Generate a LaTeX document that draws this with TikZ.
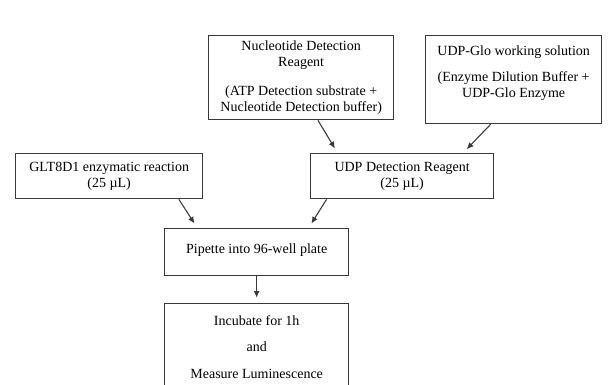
\documentclass[tikz,border=0pt]{standalone}
\usepackage{fontspec}
\setmainfont{Liberation Serif}
\usetikzlibrary{arrows.meta,calc}
\definecolor{LineClr}{rgb}{0.22,0.22,0.22}

\begin{document}
\begin{tikzpicture}[x=.75pt,y=-.75pt,
  box/.style={draw=LineClr,line width=1pt,align=center,inner sep=0pt,
    font=\fontsize{10.5}{12}\selectfont,anchor=north west},
  link/.style={-{Latex[length=5pt,width=4.5pt]},line width=.8pt,color=LineClr,shorten >=4pt}]
\clip (0,0) rectangle (614,385);
\fill[white] (0,0) rectangle (614,385);

\node[box,minimum width=185*.75pt,minimum height=84*.75pt] (nuc) at (208,35)
  {Nucleotide Detection\\Reagent\\[9.5pt](ATP Detection substrate +\\Nucleotide Detection buffer)};
\node[box,minimum width=176*.75pt,minimum height=88*.75pt,text depth=12pt] (glo) at (425,35)
  {UDP-Glo working solution\\[7pt](Enzyme Dilution Buffer +\\UDP-Glo Enzyme};
\node[box,minimum width=187*.75pt,minimum height=45*.75pt] (glt) at (15,153)
  {GLT8D1 enzymatic reaction\\(25 µL)};
\node[box,minimum width=183*.75pt,minimum height=45*.75pt] (det) at (310,153)
  {UDP Detection Reagent\\(25 µL)};
\node[box,minimum width=184*.75pt,minimum height=47*.75pt,text depth=5pt] (pip) at (164,228)
  {Pipette into 96-well plate};
\node[box,minimum width=184*.75pt,minimum height=100*.75pt,text depth=10pt] (inc) at (164,303)
  {Incubate for 1h\\[8pt]and\\[8pt]Measure Luminescence};

\draw[link] ($(nuc.south west)!.59!(nuc.south east)$) -- ($(det.north west)!.15!(det.north east)$);
\draw[link] ($(glo.south west)!.37!(glo.south east)$) -- ($(det.north west)!.83!(det.north east)$);
\draw[link] ($(glt.south west)!.87!(glt.south east)$) -- ($(pip.north west)!.18!(pip.north east)$);
\draw[link] ($(det.south west)!.09!(det.south east)$) -- ($(pip.north west)!.78!(pip.north east)$);
\draw[link] (pip) -- (inc);

\end{tikzpicture}
\end{document}
